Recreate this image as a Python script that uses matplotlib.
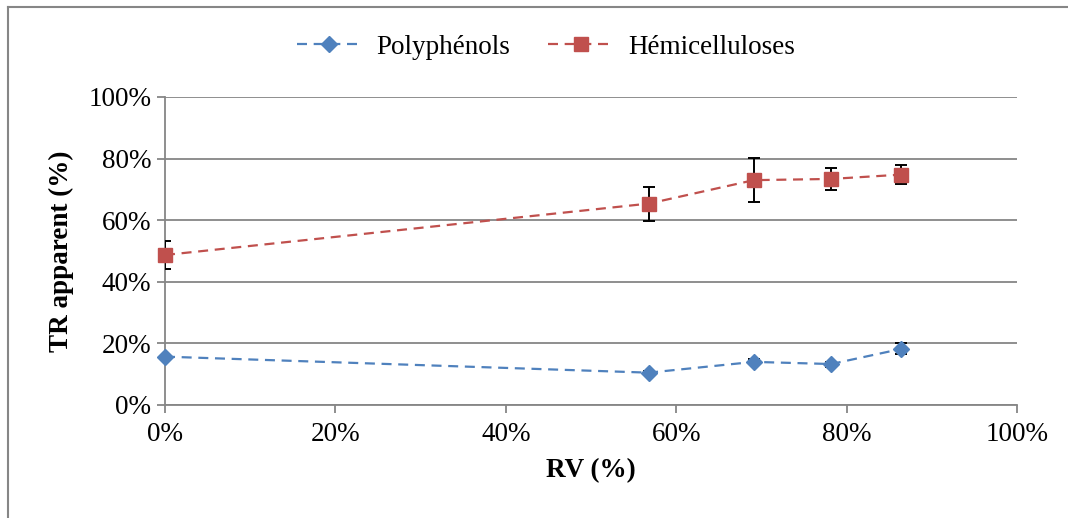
import matplotlib
matplotlib.use("Agg")
import matplotlib.pyplot as plt
from matplotlib.lines import Line2D
from matplotlib.ticker import FuncFormatter, MultipleLocator

# Data (fractions)
rv = [0.0, 0.568, 0.691, 0.782, 0.864]
polyphenols = [0.157, 0.105, 0.140, 0.133, 0.182]
polyphenols_err = [0.006, 0.006, 0.008, 0.008, 0.018]
hemicelluloses = [0.487, 0.654, 0.730, 0.734, 0.748]
hemicelluloses_err = [0.046, 0.055, 0.072, 0.035, 0.032]

series_names = ["Polyphénols", "Hémicelluloses"]
colors = ["#4F81BD", "#C0504D"]
x_label = "RV (%)"
y_label = "TR apparent (%)"

plt.rcParams["font.family"] = ["Liberation Serif", "DejaVu Serif"]

fig = plt.figure(figsize=(10.68, 5.18), dpi=100)
ax = fig.add_axes([165 / 1068, 1 - 405 / 518, (1017 - 165) / 1068, (405 - 97) / 518])

grid_col = "#868686"

for vals, errs, col, mk, ms, name in [
    (polyphenols, polyphenols_err, colors[0], "D", 8, series_names[0]),
    (hemicelluloses, hemicelluloses_err, colors[1], "s", 9.5, series_names[1]),
]:
    ax.errorbar(rv, vals, yerr=errs, fmt="none", ecolor="black",
                elinewidth=1.4, capsize=4.5, capthick=1.4, zorder=3)
    ax.plot(rv, vals, linestyle=(0, (4.5, 3)), color=col, linewidth=1.6,
            marker=mk, markersize=ms, markerfacecolor=col,
            markeredgecolor=col, label=name, zorder=4, clip_on=False)

ax.set_xlim(0, 1)
ax.set_ylim(0, 1)
ax.xaxis.set_major_locator(MultipleLocator(0.2))
ax.yaxis.set_major_locator(MultipleLocator(0.2))
pct = FuncFormatter(lambda v, p: f"{v * 100:.0f}%")
ax.xaxis.set_major_formatter(pct)
ax.yaxis.set_major_formatter(pct)

ax.grid(axis="y", color=grid_col, linewidth=1.3)
ax.set_axisbelow(True)
for s in ["top", "right"]:
    ax.spines[s].set_visible(False)
for s in ["left", "bottom"]:
    ax.spines[s].set_color(grid_col)
    ax.spines[s].set_linewidth(1.3)
ax.tick_params(axis="both", colors=grid_col, length=6, width=1.3,
               labelcolor="black", labelsize=19.5)
ax.tick_params(axis="x", pad=6)
ax.tick_params(axis="y", pad=4)

ax.set_xlabel(x_label, fontsize=19.5, fontweight="bold", labelpad=8)
ax.set_ylabel(y_label, fontsize=19.5, fontweight="bold", labelpad=10)

leg = fig.legend(loc="center", bbox_to_anchor=(546 / 1068, 1 - 47 / 518),
                 ncol=2, frameon=False, fontsize=19.5, handlelength=2.4,
                 columnspacing=1.4, handletextpad=0.55)

# Chart outline (top and left edges)
fig.add_artist(Line2D([7.5 / 1068, 1.0], [1 - 7 / 518, 1 - 7 / 518],
                      transform=fig.transFigure, color=grid_col, linewidth=1.5))
fig.add_artist(Line2D([7.5 / 1068, 7.5 / 1068], [0.0, 1 - 7 / 518],
                      transform=fig.transFigure, color=grid_col, linewidth=1.5))

fig.savefig("out.png", dpi=100)
